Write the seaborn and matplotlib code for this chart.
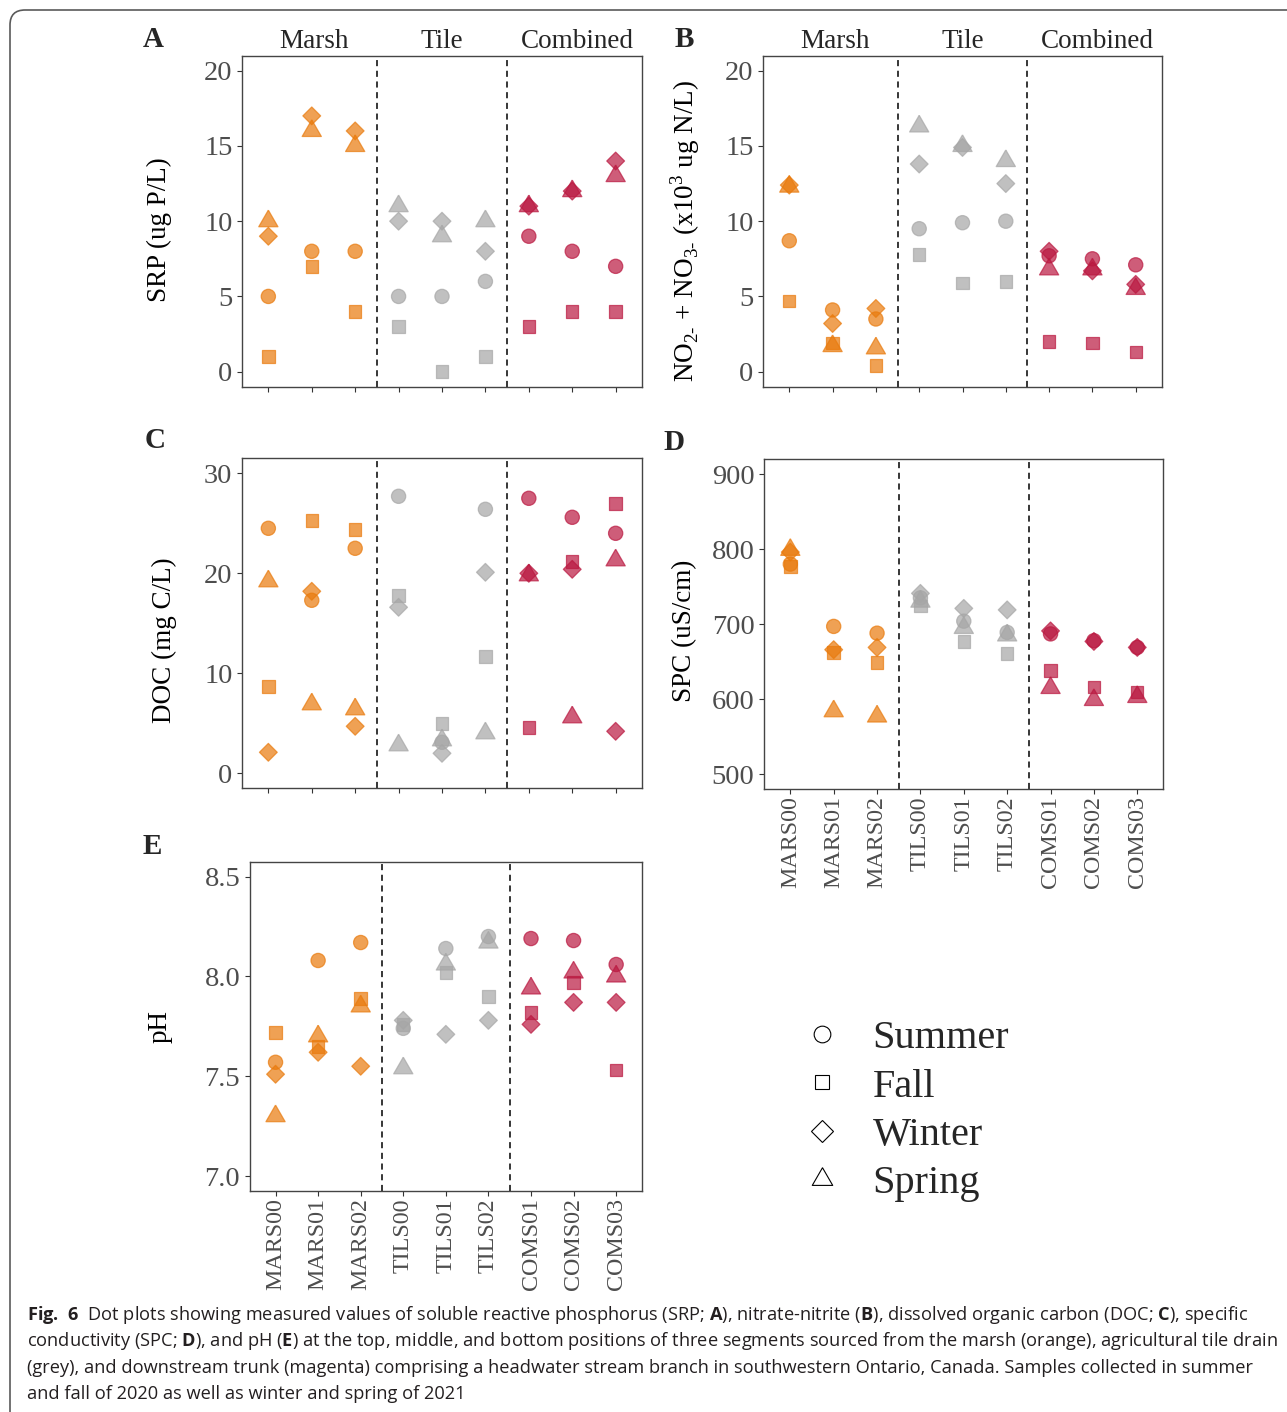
import numpy as np
import pandas as pd
import seaborn as sns
import matplotlib.pyplot as plt
from matplotlib import transforms
from matplotlib.lines import Line2D
from matplotlib.patches import FancyBboxPatch

# sites and groups (x axis)
sites = ["MARS00", "MARS01", "MARS02", "TILS00", "TILS01", "TILS02", "COMS01", "COMS02", "COMS03"]
groups = ["Marsh"] * 3 + ["Tile"] * 3 + ["Combined"] * 3
group_names = ["Marsh", "Tile", "Combined"]
seasons = ["Summer", "Fall", "Winter", "Spring"]

# SRP (ug P/L)
srp_summer = [5, 8, 8, 5, 5, 6, 9, 8, 7]
srp_fall = [1, 7, 4, 3, 0, 1, 3, 4, 4]
srp_winter = [9, 17, 16, 10, 10, 8, 11, 12, 14]
srp_spring = [10, 16, 15, 11, 9, 10, 11, 12, 13]

# NO2 + NO3 (x10^3 ug N/L)
nox_summer = [8.7, 4.1, 3.5, 9.5, 9.9, 10.0, 7.7, 7.5, 7.1]
nox_fall = [4.7, 1.9, 0.4, 7.8, 5.9, 6.0, 2.0, 1.9, 1.3]
nox_winter = [12.4, 3.2, 4.2, 13.8, 14.9, 12.5, 8.0, 6.7, 5.8]
nox_spring = [12.3, 1.7, 1.55, 16.3, 15.0, 14.0, 6.8, 6.8, 5.5]

# DOC (mg C/L)
doc_summer = [24.5, 17.3, 22.5, 27.7, 3.1, 26.4, 27.5, 25.6, 24.0]
doc_fall = [8.7, 25.3, 24.4, 17.8, 5.0, 11.7, 4.6, 21.2, 27.0]
doc_winter = [2.1, 18.2, 4.7, 16.6, 2.0, 20.1, 20.0, 20.4, 4.2]
doc_spring = [19.2, 6.9, 6.4, 2.8, 3.3, 4.0, 19.8, 5.6, 21.3]

# SPC (uS/cm)
spc_summer = [780, 697, 688, 735, 704, 689, 687, 678, 669]
spc_fall = [777, 662, 649, 724, 677, 661, 638, 616, 610]
spc_winter = [796, 666, 669, 741, 721, 719, 691, 677, 669]
spc_spring = [799, 584, 577, 730, 695, 685, 615, 599, 603]

# pH
ph_summer = [7.57, 8.08, 8.17, 7.74, 8.14, 8.20, 8.19, 8.18, 8.06]
ph_fall = [7.72, 7.65, 7.89, 7.76, 8.02, 7.90, 7.82, 7.97, 7.53]
ph_winter = [7.51, 7.62, 7.55, 7.78, 7.71, 7.78, 7.76, 7.87, 7.87]
ph_spring = [7.30, 7.70, 7.85, 7.54, 8.06, 8.17, 7.94, 8.02, 8.00]

caption_lines = [
    r"$\mathbf{Fig.\ 6}$  Dot plots showing measured values of soluble reactive phosphorus (SRP; $\mathbf{A}$), "
    r"nitrate-nitrite ($\mathbf{B}$), dissolved organic carbon (DOC; $\mathbf{C}$), specific",
    r"conductivity (SPC; $\mathbf{D}$), and pH ($\mathbf{E}$) at the top, middle, and bottom positions of three "
    r"segments sourced from the marsh (orange), agricultural tile drain",
    "(grey), and downstream trunk (magenta) comprising a headwater stream branch in southwestern Ontario, "
    "Canada. Samples collected in summer",
    "and fall of 2020 as well as winter and spring of 2021",
]

# styles
palette = {"Marsh": "#E97A0C", "Tile": "#A6A6A6", "Combined": "#BA1840"}
tri = [(0, 1), (-0.866, -0.5), (0.866, -0.5), (0, 1)]
markers = {"Summer": "o", "Fall": "s", "Winter": "D", "Spring": tri}
marker_sizes = {"Summer": 105, "Fall": 80, "Winter": 82, "Spring": 255}
legend_ms = {"Summer": 12, "Fall": 10, "Winter": 11, "Spring": 17}
strip_shift = {"Marsh": 0.05, "Tile": 0.0, "Combined": 0.12}

sns.set_style("ticks")
plt.rcParams["font.family"] = ["Liberation Serif", "DejaVu Serif"]
plt.rcParams["mathtext.fontset"] = "custom"
plt.rcParams["mathtext.bf"] = "Open Sans:bold"
plt.rcParams["mathtext.rm"] = "Liberation Serif"

W, H = 1287, 1412
fig = plt.figure(figsize=(W / 100, H / 100), dpi=100)
fig.patch.set_facecolor("white")


def px_axes(l, t, r, b):
    return fig.add_axes([l / W, 1 - b / H, (r - l) / W, (b - t) / H])


panels = [
    # letter, box, values, ylim, yticks, ylabel, label coords, show x labels, letter pos
    ("A", (242.3, 55.7, 641.7, 386.7), [srp_summer, srp_fall, srp_winter, srp_spring],
     (-1, 21), [0, 5, 10, 15, 20], "SRP (ug P/L)", (-0.176, 0.475), False, (143, 46.7)),
    ("B", (763.3, 55.7, 1161.7, 386.7), [nox_summer, nox_fall, nox_winter, nox_spring],
     (-1, 21), [0, 5, 10, 15, 20],
     r"NO$_{\mathregular{2\text{-}}}$ + NO$_{\mathregular{3\text{-}}}$ (x10$^{\mathregular{3}}$ ug N/L)",
     (-0.154, 0.469), False, (675, 46.7)),
    ("C", (242.3, 458.3, 641.7, 788.3), [doc_summer, doc_fall, doc_winter, doc_spring],
     (-1.5, 31.5), [0, 10, 20, 30], "DOC (mg C/L)", (-0.163, 0.449), False, (145, 448.3)),
    ("D", (764.3, 459, 1163.3, 789.3), [spc_summer, spc_fall, spc_winter, spc_spring],
     (480, 920), [500, 600, 700, 800, 900], "SPC (uS/cm)", (-0.168, 0.479), True, (663, 450)),
    ("E", (250, 861.7, 641.7, 1191), [ph_summer, ph_fall, ph_winter, ph_spring],
     (6.925, 8.575), [7.0, 7.5, 8.0, 8.5], "pH", (-0.197, 0.501), True, (143, 854.3)),
]

for letter, box, vals, ylim, yticks, ylabel, lab_xy, show_x, let_xy in panels:
    ax = px_axes(*box)
    df = pd.DataFrame({
        "site": np.tile(sites, len(seasons)),
        "group": np.tile(groups, len(seasons)),
        "season": np.repeat(seasons, len(sites)),
        "value": np.concatenate(vals),
    })
    for xv in [2.5, 5.5]:
        ax.axvline(xv, color="black", ls=(0, (4, 3)), lw=1.1, zorder=1)
    sns.scatterplot(data=df, x="site", y="value", hue="group", style="season", size="season",
                    palette=palette, markers=markers, sizes=marker_sizes, alpha=0.7,
                    edgecolor="face", linewidth=0.9, legend=False, ax=ax, zorder=3)
    ax.set_xlim(-0.6, 8.6)
    ax.set_ylim(*ylim)
    ax.set_yticks(yticks)
    if letter == "E":
        ax.set_yticklabels([f"{v:.1f}" for v in yticks])
    ax.set_xticks(range(len(sites)))
    if show_x:
        ax.set_xticklabels(sites, rotation=90, fontsize=17.3, color="#4d4d4d")
    else:
        ax.set_xticklabels([])
    ax.set_xlabel("")
    ax.set_ylabel(ylabel, fontsize=19.5, color="black")
    ax.yaxis.set_label_coords(*lab_xy)
    ax.tick_params(length=3.6, width=0.8, color="#333333", pad=3.5)
    ax.tick_params(axis="y", labelsize=20.5, labelcolor="#4d4d4d")
    ax.tick_params(axis="x", pad=1.5)
    for sp in ax.spines.values():
        sp.set_color("#444444")
        sp.set_linewidth(1.0)

    fig.text(let_xy[0] / W, 1 - let_xy[1] / H, letter, fontsize=21, fontweight="bold",
             ha="left", va="baseline")

    if letter in ("A", "B"):
        trans = transforms.blended_transform_factory(ax.transData, fig.transFigure)
        for g in group_names:
            xc = np.mean([i for i, gg in enumerate(groups) if gg == g]) + strip_shift[g]
            ax.text(xc, 1 - 48.5 / H, g, transform=trans, ha="center", va="baseline", fontsize=19.5)

# legend for seasons
handles = [Line2D([], [], ls="none", marker=markers[s], markersize=legend_ms[s],
                  markerfacecolor="none", markeredgecolor="black", markeredgewidth=0.8)
           for s in seasons]
fig.legend(handles, seasons, loc="center left", bbox_to_anchor=(802 / W, 1 - 1111 / H),
           frameon=False, fontsize=29, handlelength=1.0, handletextpad=0.75,
           labelspacing=0.27, borderpad=0, borderaxespad=0)

# caption
cap_y = [1315, 1341, 1368, 1394]
caps = [fig.text(27 / W, 1 - y / H, s, fontsize=11, family=["Open Sans", "DejaVu Sans"],
                 ha="left", va="center", color="#231f20")
        for s, y in zip(caption_lines, cap_y)]
fig.canvas.draw()
w0 = caps[0].get_window_extent().width
for t in caps:
    t.set_fontsize(11 * 1221 / w0)

# rounded frame around the whole figure
frame = FancyBboxPatch((0.10, -0.3), 13.2, 14.12 - 0.10 + 0.3,
                       boxstyle="round,pad=0,rounding_size=0.15",
                       transform=fig.dpi_scale_trans, facecolor="none",
                       edgecolor="#5a5a5a", linewidth=1.2, clip_on=False)
fig.add_artist(frame)

fig.savefig("out.png", dpi=100)
